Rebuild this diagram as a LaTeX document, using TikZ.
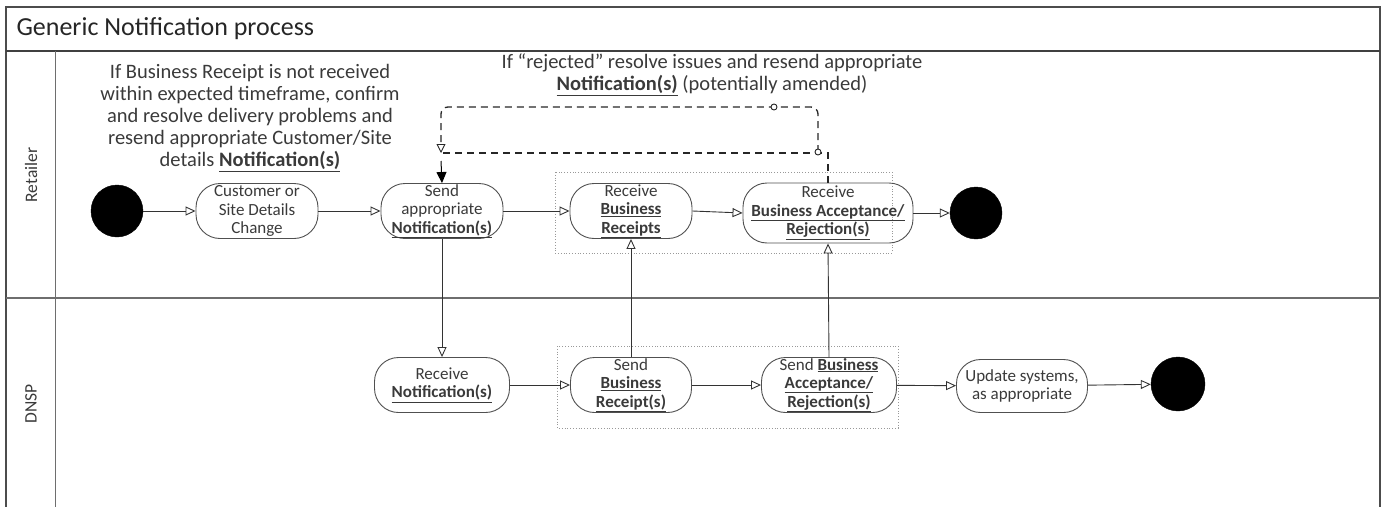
\documentclass[tikz,border=0pt]{standalone}
\usepackage{fontspec}
\setmainfont{Carlito}
\usetikzlibrary{arrows.meta}
\definecolor{txt}{HTML}{3A3A3A}
\definecolor{edge}{HTML}{505050}
\definecolor{lane}{HTML}{6E6E6E}
\newcommand{\ub}[1]{\underline{\textbf{#1}}}
\begin{document}
\begin{tikzpicture}[x=1pt,y=-1pt,
  act/.style={draw=edge,line width=0.9pt,rounded corners=24pt,align=center,
    font=\fontsize{17}{18.5}\selectfont,text=txt,inner sep=0pt},
  blob/.style={circle,fill=black,draw=black,minimum size=52pt,inner sep=0pt},
  flow/.style={draw=black!80,line width=0.9pt,-{Triangle[open,length=10pt,width=9pt]}},
  dsh/.style={draw=black!85,line width=1.3pt,dash pattern=on 7pt off 5pt},
  grp/.style={draw=black!40,line width=0.8pt,dotted},
  ann/.style={align=center,text=txt,font=\fontsize{20.5}{22}\selectfont},
  lanetxt/.style={rotate=90,font=\fontsize{17.5}{19}\selectfont,text=txt},
  laneline/.style={draw=lane,line width=1pt}]
\useasboundingbox (0,0) rectangle (1389,506);
% frame
\draw[line width=1.6pt,draw=black!70] (6,510) -- (6,7) -- (1380,7) -- (1380,510);
\draw[line width=2pt,draw=black!75] (6,51) -- (1380,51);
\draw[laneline] (55,51) -- (55,510);
\draw[laneline,line width=1.3pt] (6,298) -- (1380,298);
\node[anchor=west,font=\fontsize{26}{28}\selectfont,text=black!85] (title) at (13,29) {Generic Notification process};
\node[lanetxt] (lr) at (31,175) {Retailer};
\node[lanetxt] (ld) at (31,404) {DNSP};
% groups
\draw[grp] (555,172) rectangle (892,253);
\draw[grp] (557,346) rectangle (898,428);
% annotations
\node[ann] (ann1) at (250,118) {If Business Receipt is not received\\within expected timeframe, confirm\\and resolve delivery problems and\\resend appropriate Customer/Site\\details \ub{Notification(s)}};
\node[ann] (ann2) at (712,75) {If “rejected” resolve issues and resend appropriate\\\ub{Notification(s)} (potentially amended)};
% retailer lane
\node[blob] (s1) at (117,211) {};
\node[act,minimum width=122pt,minimum height=55pt] (c1) at (257,211) {Customer or\\Site Details\\Change};
\node[act,minimum width=122pt,minimum height=55pt] (c2) at (442,211) {Send\\appropriate\\\ub{Notification(s)}};
\node[act,minimum width=122pt,minimum height=55pt] (c3) at (631,211) {Receive\\\ub{Business}\\\ub{Receipts}};
\node[act,minimum width=170pt,minimum height=60pt] (c4) at (828,213) {Receive\\\ub{Business Acceptance/}\\\ub{Rejection(s)}};
\node[blob] (e1) at (976,213) {};
% DNSP lane
\node[act,minimum width=135pt,minimum height=55pt] (d1) at (442,385) {Receive\\\ub{Notification(s)}};
\node[act,minimum width=121pt,minimum height=55pt] (d2) at (631,385) {Send\\\ub{Business}\\\ub{Receipt(s)}};
\node[act,minimum width=135pt,minimum height=55pt] (d3) at (829,385) {Send \ub{Business}\\\ub{Acceptance/}\\\ub{Rejection(s)}};
\node[act,minimum width=131pt,minimum height=53pt] (d4) at (1022,386) {Update systems,\\as appropriate};
\node[blob,minimum size=54pt] (e2) at (1178,384) {};
% flows
\draw[flow] (s1) -- (c1);
\draw[flow] (c1) -- (c2);
\draw[flow] (c2) -- (c3);
\draw[flow] (c3.east) -- (c4.west);
\draw[flow] (c4) -- (e1);
\draw[flow] (c2.south) -- (d1.north);
\draw[flow] (d1) -- (d2);
\draw[flow] (d2) -- (d3);
\draw[flow] (d3) -- (d4);
\draw[flow] (d4) -- (e2);
\draw[flow] (d2.north) -- (c3.south);
\draw[flow] (d3.north) -- (c4.south);
% feedback loop
\coordinate (loopA) at (818,152);
\coordinate (tipA) at (441,153);
\coordinate (solidA) at (441,161);
\draw[dsh] (c4.north) |- (tipA);
\draw[dsh,rounded corners=7pt,-{Triangle[open,length=9pt,width=9pt,line width=0.9pt,sep=0pt]}] (loopA) |- (441,107) -- (tipA);
\node[circle,draw=black!85,fill=white,line width=0.9pt,minimum size=6pt,inner sep=0pt] (mk1) at (loopA) {};
\node[circle,draw=black!85,fill=white,line width=0.9pt,minimum size=6pt,inner sep=0pt] (mk2) at (774,107) {};
\draw[line width=1pt,-{Triangle[length=11pt,width=10pt]}] (solidA) -- (c2.north);
\end{tikzpicture}
\end{document}
